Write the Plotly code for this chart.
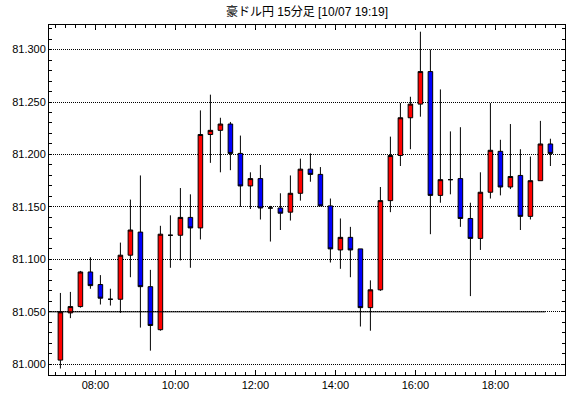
import plotly.graph_objects as go

title_text = "豪ドル円 15分足 [10/07 19:19]"
date = "2024-10-07"
bar_times = ["07:00", "07:15", "07:30", "07:45", "08:00", "08:15", "08:30", "08:45",
             "09:00", "09:15", "09:30", "09:45", "10:00", "10:15", "10:30", "10:45",
             "11:00", "11:15", "11:30", "11:45", "12:00", "12:15", "12:30", "12:45",
             "13:00", "13:15", "13:30", "13:45", "14:00", "14:15", "14:30", "14:45",
             "15:00", "15:15", "15:30", "15:45", "16:00", "16:15", "16:30", "16:45",
             "17:00", "17:15", "17:30", "17:45", "18:00", "18:15", "18:30", "18:45",
             "19:00", "19:15"]
open_ = [81.004, 81.049, 81.055, 81.088, 81.076, 81.062, 81.062, 81.104,
         81.126, 81.074, 81.033, 81.123, 81.123, 81.140, 81.130, 81.219,
         81.223, 81.229, 81.201, 81.170, 81.177, 81.149, 81.149, 81.145,
         81.163, 81.186, 81.181, 81.151, 81.109, 81.121, 81.110, 81.054,
         81.071, 81.156, 81.199, 81.235, 81.248, 81.279, 81.161, 81.176,
         81.177, 81.139, 81.120, 81.164, 81.203, 81.169, 81.180, 81.141,
         81.175, 81.210]
high = [81.068, 81.069, 81.089, 81.102, 81.085, 81.072, 81.116, 81.157,
        81.180, 81.090, 81.132, 81.142, 81.168, 81.162, 81.242, 81.257,
        81.235, 81.231, 81.218, 81.183, 81.190, 81.151, 81.163, 81.180,
        81.196, 81.201, 81.188, 81.158, 81.139, 81.131, 81.110, 81.080,
        81.169, 81.217, 81.249, 81.255, 81.317, 81.300, 81.262, 81.222,
        81.226, 81.154, 81.183, 81.249, 81.214, 81.229, 81.205, 81.198,
        81.232, 81.215]
low = [80.996, 81.044, 81.054, 81.072, 81.057, 81.056, 81.049, 81.083,
       81.035, 81.013, 81.032, 81.092, 81.099, 81.092, 81.119, 81.192,
       81.183, 81.185, 81.150, 81.148, 81.138, 81.117, 81.128, 81.137,
       81.156, 81.174, 81.151, 81.097, 81.091, 81.083, 81.036, 81.032,
       81.070, 81.145, 81.189, 81.205, 81.236, 81.124, 81.154, 81.162,
       81.131, 81.065, 81.109, 81.158, 81.161, 81.167, 81.128, 81.138,
       81.175, 81.189]
close = [81.050, 81.055, 81.088, 81.075, 81.063, 81.062, 81.104, 81.128,
         81.074, 81.037, 81.124, 81.123, 81.140, 81.130, 81.219, 81.223,
         81.229, 81.201, 81.170, 81.177, 81.149, 81.149, 81.144, 81.163,
         81.186, 81.181, 81.151, 81.110, 81.121, 81.109, 81.054, 81.071,
         81.156, 81.199, 81.235, 81.248, 81.279, 81.161, 81.176, 81.176,
         81.139, 81.120, 81.164, 81.204, 81.169, 81.179, 81.141, 81.175,
         81.210, 81.201]
ref_level = 81.050
ref_end = "19:15"
x_tick_labels = ["08:00", "10:00", "12:00", "14:00", "16:00", "18:00"]
y_range = [80.9898, 81.3234]
x_range = ["06:50:24", "19:44:24"]

x = [f"{date} {t}" for t in bar_times]

fig = go.Figure()
fig.add_trace(go.Candlestick(
    x=x, open=open_, high=high, low=low, close=close,
    xperiod=15 * 60 * 1000, xperiodalignment="middle",
    increasing=dict(fillcolor="#ff0000", line=dict(color="black", width=1)),
    decreasing=dict(fillcolor="#0000ff", line=dict(color="black", width=1)),
    whiskerwidth=0, showlegend=False, hoverinfo="x+y",
))

fig.add_shape(type="line", xref="x", yref="y",
              x0=f"{date} {x_range[0]}", x1=f"{date} {ref_end}",
              y0=ref_level, y1=ref_level,
              line=dict(color="black", width=1))

font = "Liberation Sans, Noto Sans CJK JP, sans-serif"
fig.update_layout(
    width=570, height=398,
    margin=dict(l=49, r=5, t=25, b=23),
    paper_bgcolor="white", plot_bgcolor="white",
    boxgap=0.35,
    title=dict(text=title_text, x=(49 + 565) / 2 / 570, xanchor="center",
               y=1 - 12 / 398, yanchor="middle", yref="container",
               font=dict(family=font, size=12, color="black")),
    font=dict(family=font, size=11, color="black"),
)
fig.update_xaxes(
    type="date",
    range=[f"{date} {x_range[0]}", f"{date} {x_range[1]}"],
    rangeslider=dict(visible=False),
    tickvals=[f"{date} {t}" for t in x_tick_labels],
    ticktext=x_tick_labels,
    ticks="inside", ticklen=5, tickcolor="black",
    showgrid=False, zeroline=False,
    showline=True, linecolor="black", linewidth=1, mirror="allticks",
    minor=dict(ticks="inside", dtick=15 * 60 * 1000, tick0=f"{date} 07:00",
               ticklen=3, tickcolor="black", showgrid=False),
    tickfont=dict(family=font, size=11, color="black"),
)
fig.update_yaxes(
    range=y_range, dtick=0.05, tick0=81.0, tickformat=".3f",
    ticks="inside", ticklen=3, tickcolor="black",
    showgrid=True, gridcolor="black", gridwidth=1, griddash="1px,1px",
    zeroline=False,
    showline=True, linecolor="black", linewidth=1, mirror="allticks",
    minor=dict(ticks="inside", dtick=0.01, ticklen=3, tickcolor="black", showgrid=False),
    tickfont=dict(family=font, size=11, color="black"),
)

fig.write_html("out.html")
